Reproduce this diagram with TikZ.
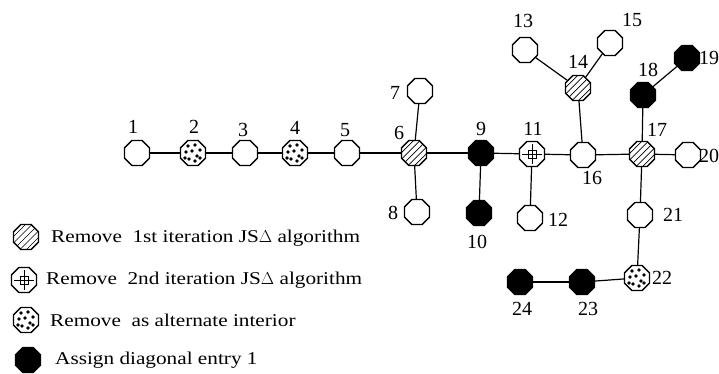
\documentclass[tikz,border=0pt]{standalone}
\usepackage{fontspec}
\setmainfont{Liberation Serif}
\newfontfamily\legfont[FakeStretch=1.18]{Liberation Serif}
\usetikzlibrary{shapes.geometric}
\newcommand{\ppcenter}{path picture bounding box.center}
\tikzset{
vtx/.style={regular polygon, regular polygon sides=8, draw, line width=1.4pt, minimum size=27pt, inner sep=0pt, fill=white},
solidv/.style={vtx, fill=black},
hatchv/.style={vtx, path picture={\foreach \d in {-28,-21.5,...,-2} \draw[line width=0.7pt] ([xshift=\d pt, yshift=-15pt]\ppcenter) -- +(30pt,30pt);}},
dotv/.style={vtx, path picture={\foreach \a/\b in {-5/7,2/8,7/3,-7/1,-1/2,4/-3,-4/-6,2/-8,7/-5,-8/-5} \fill[black] ([xshift=\a pt, yshift=\b pt]\ppcenter) circle (1.9pt);}},
crossv/.style={vtx, path picture={\draw[line width=0.9pt] ([yshift=-10pt]\ppcenter) -- ([yshift=10pt]\ppcenter) ([xshift=-10pt]\ppcenter) -- ([xshift=10pt]\ppcenter) ([shift={(-4pt,-4pt)}]\ppcenter) rectangle ([shift={(4pt,4pt)}]\ppcenter);}},
numlbl/.style={font=\fontsize{20}{24}\selectfont, inner sep=0pt},
legtxt/.style={font=\legfont\fontsize{18}{22}\selectfont, anchor=west, inner sep=0pt}
}
\begin{document}
\begin{tikzpicture}[x=1pt,y=-1pt]
\useasboundingbox (0,0) rectangle (719,374);
% tree
\foreach \i/\x/\y/\s in {1/137/153/vtx, 2/193/153/dotv, 3/245/153/vtx, 4/295/153/dotv, 5/347/153/vtx, 6/414/153/hatchv,
  7/420/91/vtx, 8/417/212/vtx, 9/481/153/solidv, 10/479/213/solidv, 11/532/154/crossv, 12/530/218/vtx,
  13/525/50/vtx, 14/578/88/hatchv, 15/610/43/vtx, 16/583/155/vtx, 17/642/154/hatchv, 18/643/95/solidv,
  19/687/58/solidv, 20/688/155/vtx, 21/640/215/vtx, 22/637/278/dotv, 23/582/282/solidv, 24/520/282/solidv}
  \node[\s] (n\i) at (\x,\y) {};
\foreach \a/\b in {1/2, 2/3, 3/4, 4/5, 5/6, 6/9, 9/11, 11/16, 16/17, 17/20, 6/7, 6/8, 9/10, 11/12,
  14/16, 14/13, 14/15, 17/18, 18/19, 17/21, 21/22, 22/23, 23/24}
  \draw[line width=1.2pt] (n\a) -- (n\b);
\foreach \i/\x/\y in {1/133/127, 2/194/127, 3/243/130, 4/295/128, 5/345/130, 6/399/133, 7/395/93, 8/393/213,
  9/481/129, 10/477/242, 11/533/129, 12/558/220, 13/523/21, 14/578/62, 15/632/20, 16/592/178, 17/657/130,
  18/648/70, 19/709/58, 20/709/156, 21/673/215, 22/662/278, 23/588/309, 24/522/309}
  \node[numlbl] (t\i) at (\x,\y) {\i};
% legend
\node[hatchv] (k1) at (26,237) {};
\node[crossv] (k2) at (24,280) {};
\node[dotv] (k3) at (26,320) {};
\node[solidv] (k4) at (28,360) {};
\node[legtxt] (m1) at (51,238) {Remove\ \ 1st iteration JS$\Delta$ algorithm};
\node[legtxt] (m2) at (46,280) {Remove\ \ 2nd iteration JS$\Delta$ algorithm};
\node[legtxt] (m3) at (50,320) {Remove\ \ as alternate interior};
\node[legtxt] (m4) at (55,360) {Assign diagonal entry 1};
\end{tikzpicture}
\end{document}
